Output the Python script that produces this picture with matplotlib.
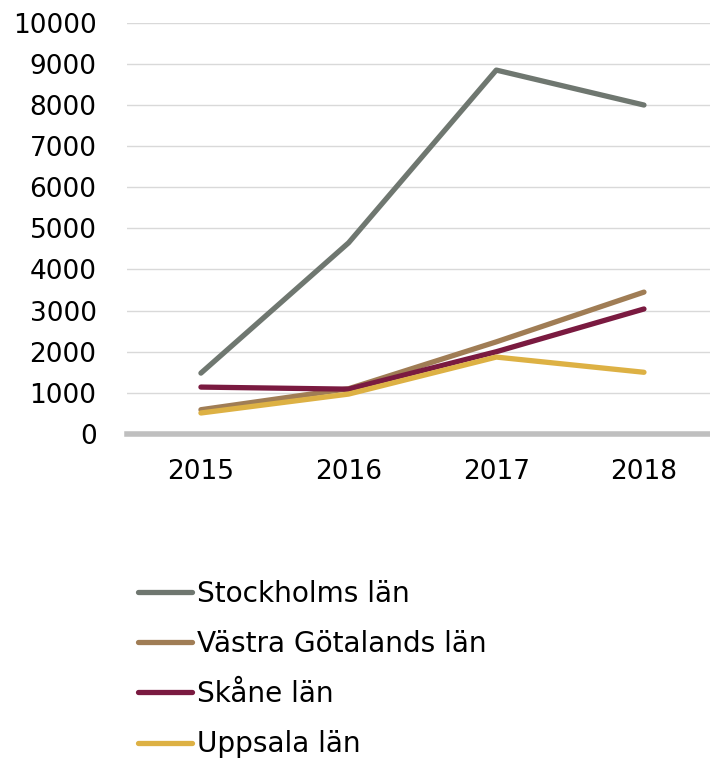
import matplotlib
matplotlib.use('Agg')
import matplotlib.pyplot as plt

# 数据
years = ['2015', '2016', '2017', '2018']
stockholm = [1480, 4650, 8850, 8000]
vastra = [590, 1100, 2240, 3450]
skane = [1140, 1090, 2000, 3040]
uppsala = [510, 970, 1870, 1500]

series_names = ['Stockholms län', 'Västra Götalands län', 'Skåne län', 'Uppsala län']
series_values = [stockholm, vastra, skane, uppsala]
colors = ['#6F7770', '#A07D55', '#7A1A40', '#DDB144']
yticks = list(range(0, 10001, 1000))

plt.rcParams['font.family'] = ['DejaVu Sans']

fig = plt.figure(figsize=(7.1, 7.6), dpi=100)
ax = fig.add_axes([0.179, 0.429, 0.832, 0.541])

x = range(len(years))
lines = []
for name, vals, c in zip(series_names, series_values, colors):
    ln, = ax.plot(x, vals, color=c, linewidth=3.8, solid_capstyle='round',
                  solid_joinstyle='round', label=name, zorder=3)
    lines.append(ln)

ax.set_xlim(-0.5, 3.5)
ax.set_ylim(0, 10000)
ax.set_yticks(yticks)
ax.set_xticks(list(x))
ax.set_xticklabels(years)
ax.grid(axis='y', color='#D9D9D9', linewidth=1.0, zorder=0)
ax.axhline(0, color='#BFBFBF', linewidth=4, zorder=2, clip_on=False)
for s in ax.spines.values():
    s.set_visible(False)
ax.tick_params(axis='both', length=0, labelsize=19, colors='black')
ax.tick_params(axis='y', pad=22)
ax.tick_params(axis='x', pad=18)

# 图例放在图表下方
fig.legend(handles=lines, loc='upper left', bbox_to_anchor=(0.195, 0.237),
           frameon=False, fontsize=20.2, handlelength=1.92, handletextpad=0.15,
           labelspacing=0.79, borderaxespad=0, borderpad=0)

fig.savefig('out.png', dpi=100)
